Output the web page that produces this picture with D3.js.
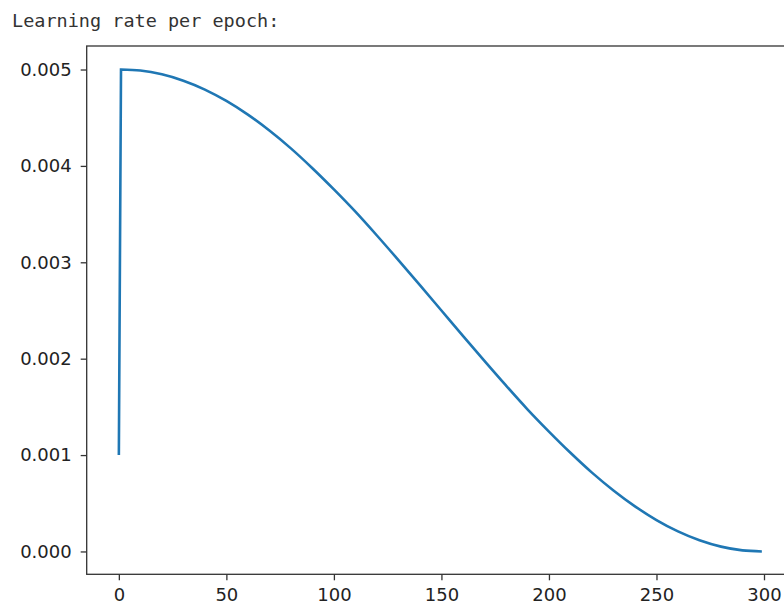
<!DOCTYPE html>
<html>
<head>
<meta charset="utf-8">
<script src="https://cdn.jsdelivr.net/npm/d3@7"></script>
<style>
  html, body { margin: 0; padding: 0; background: #fff; }
  svg { display: block; }
</style>
</head>
<body>
<svg id="chart"></svg>
<script>
// values
const epochs = [0, 1, 10, 20, 30, 40, 50, 60, 70, 80, 90, 100, 110, 120, 130, 140, 150,
  160, 170, 180, 190, 200, 210, 220, 230, 240, 250, 260, 270, 280, 290, 299];
const learningRates = [0.001, 0.005, 0.004989, 0.004950, 0.004884, 0.004792, 0.004674, 0.004532,
  0.004367, 0.004182, 0.003976, 0.003756, 0.003525, 0.003278, 0.003023, 0.002763, 0.0025,
  0.002237, 0.001977, 0.001722, 0.001475, 0.001244, 0.001024, 0.000818, 0.000633, 0.000468,
  0.000326, 0.000208, 0.000116, 0.000050, 0.000011, 0.0];
const xTicks = [0, 50, 100, 150, 200, 250, 300];
const yTicks = [0, 0.001, 0.002, 0.003, 0.004, 0.005];
const titleText = 'Learning rate per epoch:';

const width = 784, height = 608;
const plot = { left: 86.7, top: 46, right: 794, bottom: 574.3 };

const svg = d3.select('#chart')
  .attr('width', width)
  .attr('height', height)
  .attr('viewBox', `0 0 ${width} ${height}`);

svg.append('rect')
  .attr('width', width)
  .attr('height', height)
  .attr('fill', '#fff');

svg.append('text')
  .attr('x', 12)
  .attr('y', 27)
  .attr('font-family', '"DejaVu Sans Mono", monospace')
  .attr('font-size', '18.5px')
  .attr('fill', '#333')
  .text(titleText);

const x = d3.scaleLinear()
  .domain([-14.95, 313.95])
  .range([plot.left, plot.right]);

const y = d3.scaleLinear()
  .domain([-0.000237, 0.005244])
  .range([plot.bottom, plot.top]);

const data = epochs.map((e, i) => ({ epoch: e, lr: learningRates[i] }));

// warmup step is a straight jump, the decay is smoothed through the read points
const decay = d3.line()
  .x(d => x(d.epoch))
  .y(d => y(d.lr))
  .curve(d3.curveMonotoneX);

const start = data[0];
const pathD = `M${x(start.epoch)},${y(start.lr)}` + decay(data.slice(1)).replace(/^M/, 'L');

svg.append('path')
  .attr('fill', 'none')
  .attr('stroke', '#1f77b4')
  .attr('stroke-width', 2.6)
  .attr('stroke-linejoin', 'miter')
  .attr('d', pathD);

// axes
const xAxis = svg.append('g')
  .attr('transform', `translate(0, ${plot.bottom})`)
  .call(d3.axisBottom(x).tickValues(xTicks).tickSize(6).tickPadding(8).tickFormat(d3.format('d')));

const yAxis = svg.append('g')
  .attr('transform', `translate(${plot.left}, 0)`)
  .call(d3.axisLeft(y).tickValues(yTicks).tickSize(6).tickPadding(9).tickFormat(d3.format('.3f')));

[xAxis, yAxis].forEach(ax => {
  ax.select('.domain').remove();
  ax.selectAll('.tick line').attr('stroke', '#333').attr('stroke-width', 1.3);
  ax.selectAll('.tick text')
    .attr('font-family', '"DejaVu Sans", sans-serif')
    .attr('font-size', '18px')
    .attr('fill', '#222');
});

// spines
svg.append('rect')
  .attr('x', plot.left)
  .attr('y', plot.top)
  .attr('width', plot.right - plot.left)
  .attr('height', plot.bottom - plot.top)
  .attr('fill', 'none')
  .attr('stroke', '#333')
  .attr('stroke-width', 1.3);
</script>
</body>
</html>
